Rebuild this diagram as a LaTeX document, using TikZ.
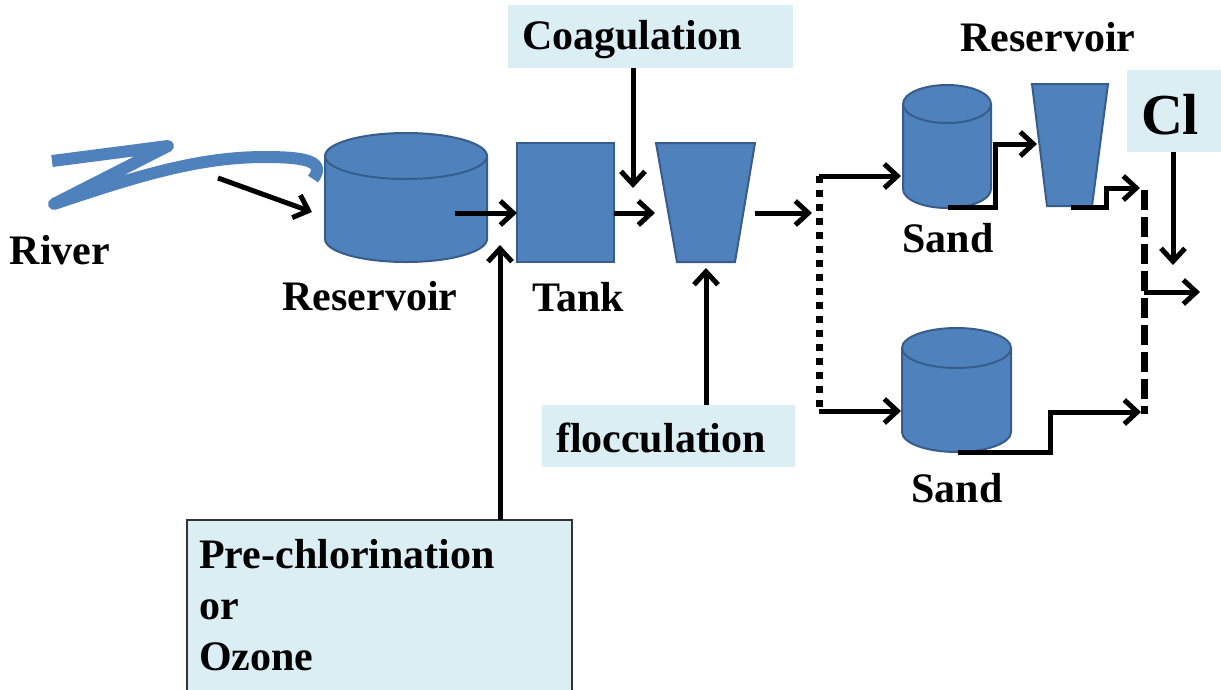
\documentclass[tikz,border=0pt]{standalone}
\usepackage{fontspec}
\setmainfont{Liberation Serif}
\usetikzlibrary{arrows.meta}
\definecolor{tankblue}{HTML}{4F81BD}
\definecolor{tankedge}{HTML}{385D8A}
\definecolor{boxfill}{HTML}{DBEEF4}
\begin{document}
\begin{tikzpicture}[x=1pt,y=-1pt,
  vessel/.style={fill=tankblue,draw=tankedge,line width=2pt},
  flow/.style={line width=5pt,-{Straight Barb[length=13pt,width=24pt]}},
  lbl/.style={font=\bfseries\fontsize{42}{44}\selectfont,inner sep=0pt},
  infobox/.style={fill=boxfill,inner sep=0pt},
]
\useasboundingbox (0,0) rectangle (1221,689);
% river
\draw[tankblue,line width=12pt,line join=round] (52,161) -- (168,146) -- (54,204)
  .. controls (140,175) and (200,157) .. (265,157)
  .. controls (300,157) and (328,160) .. (313,179);
% reservoir cylinder
\path[vessel] (325,156) -- (325,239) arc[start angle=180,end angle=360,x radius=81pt,y radius=23pt] -- (487,156) -- cycle;
\draw[vessel] (406,156) ellipse[x radius=81pt,y radius=23pt];
% tank
\node[vessel,minimum width=97pt,minimum height=119pt,inner sep=0pt] (tank) at (565.5,202.5) {};
% flocculator
\path[vessel] (656,143) -- (755,143) -- (735,262) -- (677,262) -- cycle;
% upper sand
\path[vessel] (903,104) -- (903,189) arc[start angle=180,end angle=360,x radius=44pt,y radius=19pt] -- (991,104) -- cycle;
\draw[vessel] (947,104) ellipse[x radius=44pt,y radius=19pt];
% lower sand
\path[vessel] (902,348) -- (902,432) arc[start angle=180,end angle=360,x radius=54.5pt,y radius=20pt] -- (1011,348) -- cycle;
\draw[vessel] (956.5,348) ellipse[x radius=54.5pt,y radius=20pt];
% upper reservoir (trapezoid)
\path[vessel] (1032,84) -- (1108,84) -- (1092,206) -- (1047,206) -- cycle;

% boxes
\node[infobox,minimum width=285pt,minimum height=63pt] (coag) at (650.5,36.5) {};
\node[lbl] at (632,40) {Coagulation};
\node[infobox,minimum width=253pt,minimum height=62pt] (floc) at (668.5,436) {};
\node[lbl] at (661,438) {flocculation};
\node[infobox,minimum width=94pt,minimum height=82pt] (clbox) at (1174,111) {};
\node[font=\bfseries\fontsize{58}{60}\selectfont,inner sep=0pt] at (1170,115) {Cl};
\path[fill=boxfill,draw=black!80,line width=1.2pt] (187,520) rectangle (572,700);
\node[lbl,anchor=west,align=left] (pre) at (199,605) {Pre-chlorination\\[7pt]or\\[7pt]Ozone};

% labels
\node[lbl] at (60,250) {River};
\node[lbl] at (370,296) {Reservoir};
\node[lbl] at (578,297) {Tank};
\node[lbl] at (1048,37) {Reservoir};
\node[lbl] at (948,238) {Sand};
\node[lbl] at (957,488) {Sand};

% connector coordinates
\coordinate (r1) at (218,178); \coordinate (r2) at (312,212);
\coordinate (s1) at (455,213); \coordinate (s2) at (517,213);
\coordinate (p1) at (500,520); \coordinate (p2) at (500,245);
\coordinate (c1) at (633,68);  \coordinate (c2) at (633,188);
\coordinate (t1) at (614,213); \coordinate (t2) at (655,213);
\coordinate (f1) at (706,405); \coordinate (f2) at (706,268);
\coordinate (o1) at (755,213); \coordinate (o2) at (812,213);
\coordinate (dt) at (819,176); \coordinate (db) at (819,411);
\coordinate (u2) at (901,176); \coordinate (l2) at (901,411);
\coordinate (ua) at (948,207); \coordinate (ub) at (995,207); \coordinate (uc) at (995,144); \coordinate (ud) at (1037,144);
\coordinate (va) at (1071,207); \coordinate (vb) at (1106,207); \coordinate (vc) at (1106,188); \coordinate (vd) at (1140,188);
\coordinate (wa) at (958,452); \coordinate (wb) at (1050,452); \coordinate (wc) at (1050,412); \coordinate (wd) at (1141,412);
\coordinate (et) at (1144,190); \coordinate (eb) at (1144,414);
\coordinate (k1) at (1173,152); \coordinate (k2) at (1173,265);
\coordinate (x1) at (1144,292); \coordinate (x2) at (1200,292);

% connectors
\draw[flow] (r1) -- (r2);
\draw[flow] (s1) -- (s2);
\draw[flow] (p1) -- (p2);
\draw[flow] (c1) -- (c2);
\draw[flow] (t1) -- (t2);
\draw[flow] (f1) -- (f2);
\draw[flow] (o1) -- (o2);
\draw[line width=7pt,dash pattern=on 7pt off 7pt] (dt) -- (db);
\draw[flow] (dt) -- (u2);
\draw[flow] (db) -- (l2);
\draw[flow] (ua) -- (ub) -- (uc) -- (ud);
\draw[flow] (va) -- (vb) -- (vc) -- (vd);
\draw[flow] (wa) -- (wb) -- (wc) -- (wd);
\draw[line width=7pt,dash pattern=on 20pt off 7pt] (et) -- (eb);
\draw[flow] (k1) -- (k2);
\draw[flow] (x1) -- (x2);
\end{tikzpicture}
\end{document}
